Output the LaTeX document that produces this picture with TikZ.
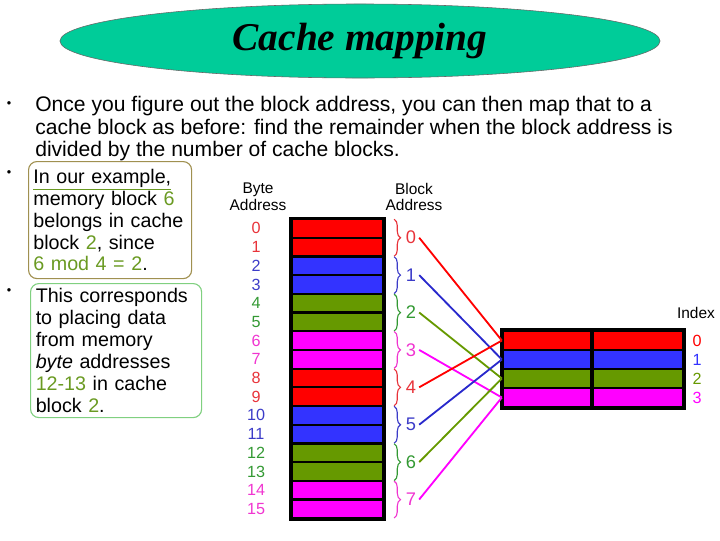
\documentclass[tikz,border=0pt]{standalone}
\usepackage{fontspec}
\setmainfont{Liberation Sans}
\newfontfamily\titlefont{Liberation Serif}
\usepackage{xcolor}
\usepackage{tikz}
\usetikzlibrary{shapes.geometric, positioning, decorations.pathreplacing, calc}

\definecolor{titlegreen}{HTML}{00CC99}
\definecolor{memred}{HTML}{FF0000}
\definecolor{memblue}{HTML}{3333FF}
\definecolor{memgreen}{HTML}{669900}
\definecolor{memmag}{HTML}{FF00FF}
\definecolor{txtred}{HTML}{E8333A}
\definecolor{txtblue}{HTML}{3C3CC8}
\definecolor{txtgreen}{HTML}{339933}
\definecolor{txtmag}{HTML}{F035D0}
\definecolor{numgreen}{HTML}{6A9A22}
\definecolor{boxolive}{HTML}{A09050}
\definecolor{boxgreen}{HTML}{80D080}
% colours by block number mod 4
\colorlet{mc0}{memred}\colorlet{mc1}{memblue}\colorlet{mc2}{memgreen}\colorlet{mc3}{memmag}
\colorlet{tc0}{txtred}\colorlet{tc1}{txtblue}\colorlet{tc2}{txtgreen}\colorlet{tc3}{txtmag}
\colorlet{lc0}{memred}\colorlet{lc1}{memblue!80!black}\colorlet{lc2}{memgreen}\colorlet{lc3}{memmag}
\colorlet{ic0}{memred}\colorlet{ic1}{memblue}\colorlet{ic2}{memgreen}\colorlet{ic3}{memmag}

\newcommand{\hl}[1]{\textcolor{numgreen}{#1}}

\tikzset{
  titleblob/.style={
    ellipse,
    draw=black!60,
    fill=titlegreen,
    minimum width=15cm,
    minimum height=1.85cm,
    font=\titlefont\bfseries\itshape\fontsize{28}{30}\selectfont
  },
  bodytext/.style={
    font=\fontsize{15}{16}\selectfont,
    align=left,
    inner sep=0pt
  },
  dot/.style={
    font=\fontsize{9}{9}\selectfont,
    inner sep=0pt
  },
  notebox/.style={
    rectangle,
    rounded corners=6pt,
    line width=0.8pt,
    align=left,
    anchor=north west,
    font=\fontsize{14}{15.6}\selectfont
  },
  memrow/.style={
    rectangle,
    draw=black,
    line width=1.6pt,
    minimum width=2.275cm,
    minimum height=0.4675cm,
    inner sep=0pt
  },
  cacherow/.style={
    rectangle,
    draw=black,
    line width=1.6pt,
    minimum height=0.475cm,
    inner sep=0pt
  },
  addr/.style={
    font=\fontsize{11.5}{11.5}\selectfont
  },
  head/.style={
    font=\fontsize{11}{12}\selectfont,
    align=center
  },
  blk/.style={
    font=\fontsize{13}{13}\selectfont,
    inner sep=2pt
  },
  grp/.style={
    decorate,
    decoration={brace, amplitude=4.5pt},
    line width=0.8pt
  },
  mapline/.style={
    line width=1.3pt
  }
}

\begin{document}
\begin{tikzpicture}[x=0.025cm, y=-0.025cm]
  \useasboundingbox (0,0) rectangle (720,540);

  % --- TITLE ---
  \node (title) [titleblob] at (360,41) {Cache mapping};

  % --- TEXT ---
  \node (d1) [dot] at (9,105) {\textbullet};
  \node (intro) [bodytext, anchor=north west] at (35,96)
    {Once you figure out the block address, you can then map that to a\\
     cache block as before: find the remainder when the block address is\\
     divided by the number of cache blocks.};

  \node (d2) [dot] at (9,174) {\textbullet};
  \node (note1) [notebox, draw=boxolive, inner xsep=0.12cm, text width=3.835cm,
                 minimum height=2.925cm] at (28,161)
    {{\color{numgreen}\underline{\color{black}In our example,}}\\
     memory block \hl{6}\\
     belongs in cache\\
     block \hl{2}, since\\
     \hl{6 mod 4 = 2}.};

  \node (d3) [dot] at (9,292) {\textbullet};
  \node (note2) [notebox, draw=boxgreen, inner xsep=0.13cm, text width=4.015cm,
                 minimum height=3.35cm] at (30,283)
    {This corresponds\\
     to placing data\\
     from memory\\
     \textit{byte} addresses\\
     \hl{12-13} in cache\\
     block \hl{2}.};

  % --- MEMORY ---
  \node (bytehead) [head] at (258,197) {Byte\\Address};
  \node (blockhead) [head] at (414,197) {Block\\Address};

  \foreach \i in {0,...,15} {
    \pgfmathtruncatemacro{\r}{mod(floor(\i/2),4)}
    \node (m\i) [memrow, fill=mc\r] at (337.5,{228.4+18.7*\i}) {};
    \node (b\i) [addr, text=tc\r] at (256,{228.4+18.7*\i}) {\i};
  }
  \draw[line width=2pt] (m0.north west) rectangle (m15.south east);

  % --- CACHE ---
  \node (index) [head] at (696,313) {Index};
  \foreach \r in {0,...,3} {
    \node (cl\r) [cacherow, fill=mc\r, minimum width=2.2cm] at (547,{340.5+19*\r}) {};
    \node (cr\r) [cacherow, fill=mc\r, minimum width=2.25cm, right=0pt of cl\r] {};
    \node (ix\r) [addr, text=ic\r] at (697,{340.5+19*\r}) {\r};
  }
  \draw[line width=2pt] (cl0.north west) rectangle (cr3.south east);

  % --- BLOCKS AND MAPPING ---
  \foreach \k in {0,...,7} {
    \pgfmathtruncatemacro{\r}{mod(\k,4)}
    \pgfmathtruncatemacro{\a}{2*\k}
    \pgfmathtruncatemacro{\b}{2*\k+1}
    \draw[grp, tc\r] ([xshift=0.25cm, yshift=-1pt]m\a.north east) -- ([xshift=0.25cm, yshift=1pt]m\b.south east);
    \node (blk\k) [blk, text=tc\r] at (411,{237.7+37.4*\k}) {\k};
    \draw[mapline, lc\r] (blk\k.east) -- (cl\r.west);
  }

\end{tikzpicture}
\end{document}
